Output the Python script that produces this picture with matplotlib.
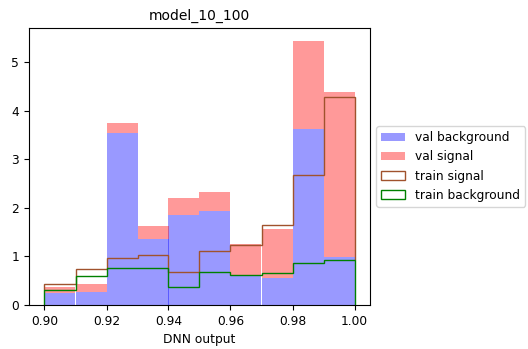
import numpy as np
import matplotlib
matplotlib.use("Agg")
import matplotlib.pyplot as plt

bin_edges = [0.90, 0.91, 0.92, 0.93, 0.94, 0.95, 0.96, 0.97, 0.98, 0.99, 1.00]
val_background = [0.24, 0.27, 3.54, 1.36, 1.86, 1.93, 0.62, 0.55, 3.62, 0.99]
val_signal = [0.14, 0.16, 0.20, 0.27, 0.35, 0.40, 0.64, 1.01, 1.81, 3.40]
train_background = [0.30, 0.59, 0.77, 0.77, 0.37, 0.68, 0.61, 0.65, 0.86, 0.92]
train_signal = [0.13, 0.16, 0.20, 0.25, 0.31, 0.44, 0.62, 1.00, 1.81, 3.37]

plt.rcParams['font.size'] = 8.8

edges = np.array(bin_edges)
centers = (edges[:-1] + edges[1:]) / 2

fig = plt.figure(figsize=(5.28, 3.49), dpi=100)
ax = fig.add_axes([29/528, 1 - 305/349, (370-29)/528, (305-28)/349])

ax.hist([centers, centers], bins=edges, weights=[val_background, val_signal],
        stacked=True, color=['b', 'r'], alpha=0.4,
        label=['val background', 'val signal'])
ax.hist([centers, centers], bins=edges, weights=[train_background, train_signal],
        stacked=True, histtype='step', color=['g', 'sienna'],
        label=['train background', 'train signal'])

ax.set_title('model_10_100', fontsize=10)
ax.set_xlabel('DNN output')
ax.legend(loc='center left', bbox_to_anchor=(1, 0.5))

fig.savefig('out.png', dpi=100)
